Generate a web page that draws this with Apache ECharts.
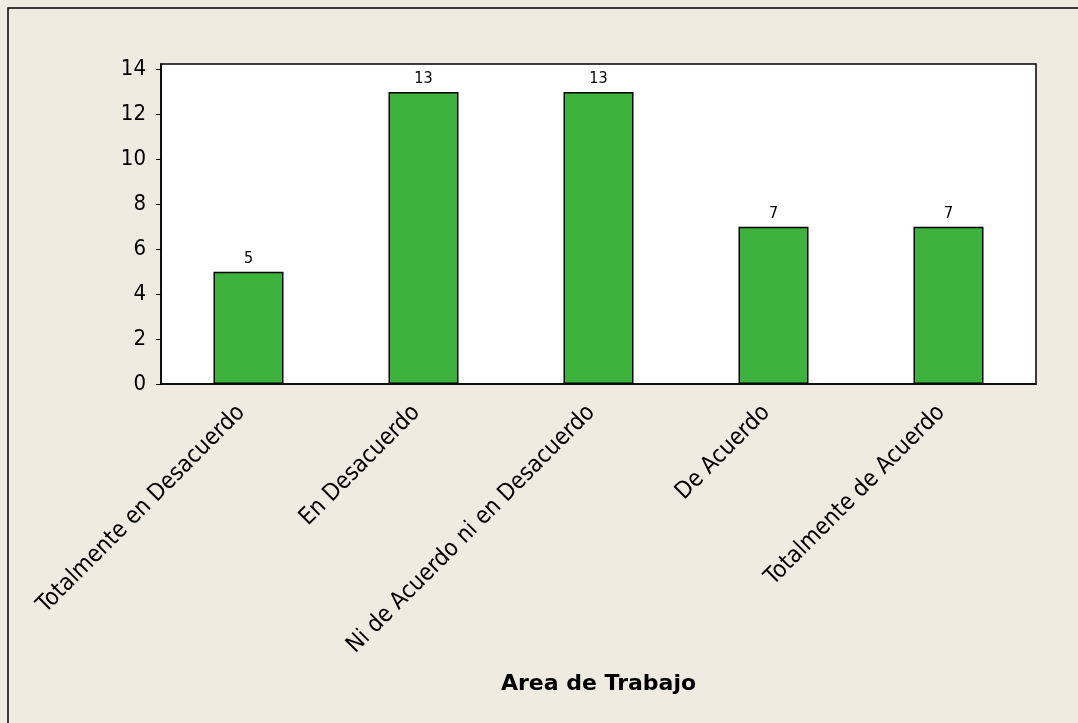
<!DOCTYPE html>
<html>
<head>
<meta charset="utf-8">
<script src="https://cdn.jsdelivr.net/npm/echarts@6/dist/echarts.min.js"></script>
<style>
html,body{margin:0;padding:0;background:#EFEBE1;}
#chart{width:1078px;height:723px;}
</style>
</head>
<body>
<div id="chart"></div>
<script>
const categories = ['Totalmente en Desacuerdo', 'En Desacuerdo', 'Ni de Acuerdo ni en Desacuerdo', 'De Acuerdo', 'Totalmente de Acuerdo'];
const counts = [5, 13, 13, 7, 7];
const yTicks = [0, 2, 4, 6, 8, 10, 12, 14];
const axisTitle = 'Area de Trabajo';

const chart = echarts.init(document.getElementById('chart'));
const font = 'DejaVu Sans Condensed, DejaVu Sans';
chart.setOption({
  backgroundColor: '#EFEBE1',
  animation: false,
  graphic: [{
    type: 'rect',
    shape: {x: 8, y: 8, width: 1200, height: 800},
    style: {fill: 'none', stroke: '#000', lineWidth: 1.5}
  }],
  grid: {left: 161, top: 64, right: 42, bottom: 339, show: true, backgroundColor: '#fff', borderColor: '#000', borderWidth: 1.5},
  xAxis: {
    type: 'category', data: categories,
    name: axisTitle, nameLocation: 'middle', nameGap: 289,
    nameTextStyle: {fontFamily: 'DejaVu Sans', fontWeight: 'bold', fontSize: 22, color: '#000'},
    axisLine: {lineStyle: {color: '#000', width: 1.5}},
    axisTick: {alignWithLabel: true, length: 5, lineStyle: {color: '#000'}},
    axisLabel: {rotate: 45, margin: 18, padding: [0, 10, 0, 0], fontFamily: font, fontSize: 23.5, color: '#000', interval: 0}
  },
  yAxis: {
    type: 'value', min: 0, max: 14.25,
    splitLine: {show: false},
    axisLine: {show: true, lineStyle: {color: '#000', width: 1.5}},
    axisTick: {show: true, length: 5, lineStyle: {color: '#000'}, customValues: yTicks},
    axisLabel: {margin: 15, fontFamily: font, fontSize: 22, color: '#000', customValues: yTicks}
  },
  series: [{
    type: 'bar', data: counts, barWidth: '40%',
    itemStyle: {color: '#3DB33D', borderColor: '#000', borderWidth: 1.5},
    label: {show: true, position: 'top', distance: 5, fontFamily: font, fontSize: 16, color: '#000'}
  }]
});
</script>
</body>
</html>
